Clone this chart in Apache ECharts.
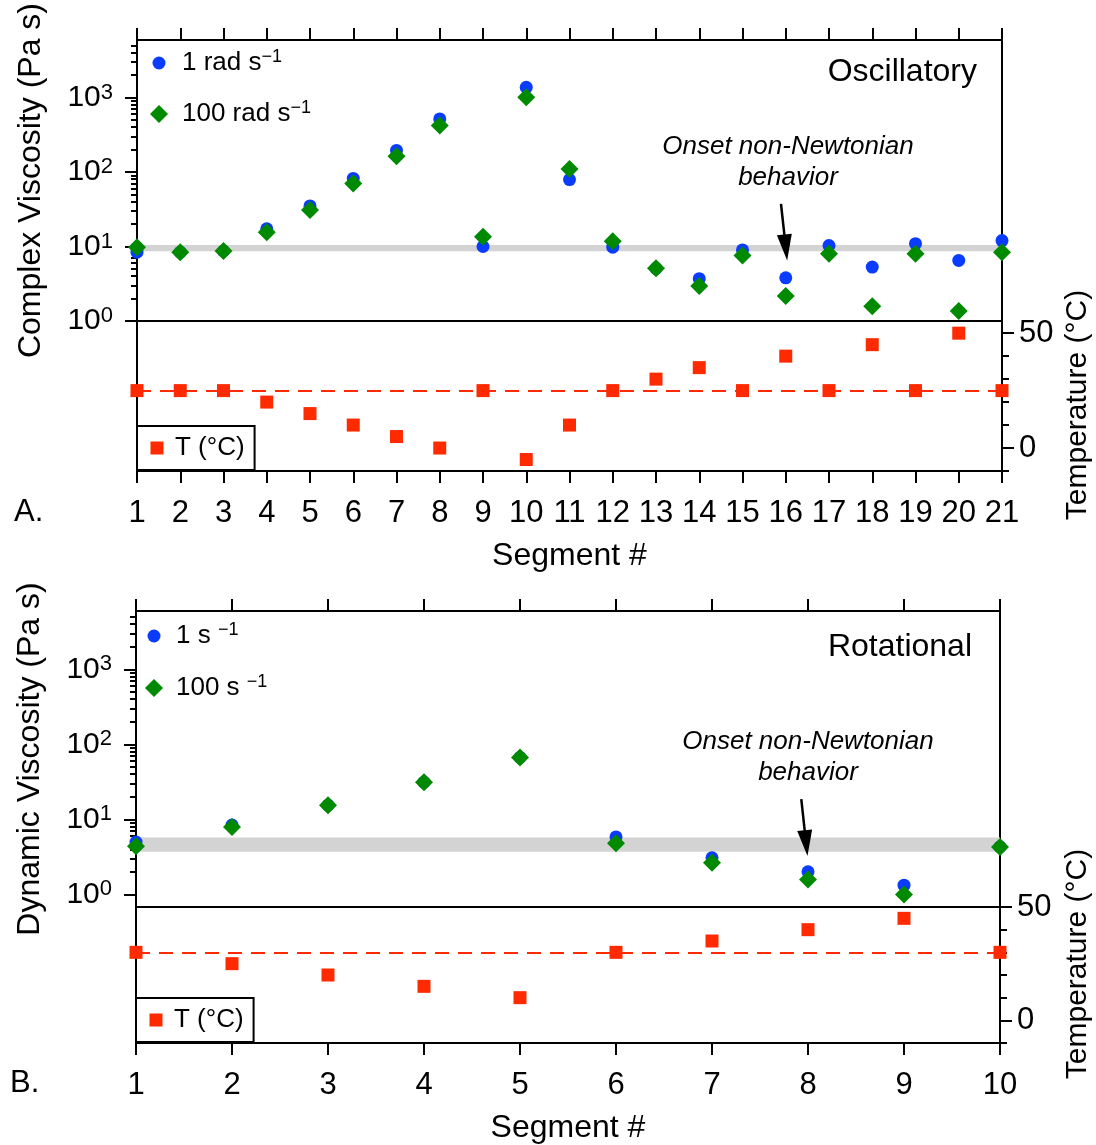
<!DOCTYPE html>
<html><head><meta charset="utf-8">
<script src="https://cdn.jsdelivr.net/npm/echarts@6/dist/echarts.min.js"></script>
<style>html,body{margin:0;padding:0;background:#fff}#c{width:1096px;height:1145px}</style>
</head><body><div id="c"></div>
<script>
// ---------- data ----------
const segmentsA = [1,2,3,4,5,6,7,8,9,10,11,12,13,14,15,16,17,18,19,20,21];
const oscVisc1   = [8.4, 8.4, 8.7, 17.3, 35, 82, 195, 515, 10, 1370, 79, 9.8, 5.1, 3.7, 9.0, 3.8, 10.3, 5.3, 10.9, 6.5, 12.0];
const oscVisc100 = [9.8, 8.4, 8.7, 15.5, 31, 70, 163, 420, 13.5, 1010, 110, 11.8, 5.1, 2.96, 7.6, 2.17, 8.0, 1.58, 8.0, 1.36, 8.4];
const oscTemp    = [25, 25, 25, 20, 15, 10, 5, 0, 25, -5, 10, 25, 30, 35, 25, 40, 25, 45, 25, 50, 25];
const oscRefTemp = 25;
const oscBand    = [8.66, 10.5];

const segmentsB = [1,2,3,4,5,6,7,8,9,10];
const rotVisc1   = [5.0, 8.4, 15.5, 31.4, 67, 5.85, 3.08, 2.0, 1.33, 4.3];
const rotVisc100 = [4.4, 7.9, 15.5, 31.4, 67, 4.8, 2.64, 1.58, 1.0, 4.3];
const rotTemp    = [30, 25, 20, 15, 10, 30, 35, 40, 45, 30];
const rotRefTemp = 30;
const rotBand    = [3.7, 5.75];

const logMajor = [1, 10, 100, 1000];
const logMinor = [2,3,4,5,6,7,8,9,20,30,40,50,60,70,80,90,200,300,400,500,600,700,800,900,2000,3000,4000,5000];
const tempMajor = [0, 50];
const tempMinor = [-10, 10, 20, 30, 40];

// arrow annotation anchors (data space): [segment, viscosity]
const arrowA = [[15.89, 37.4], [16.0, 9.7]];
const arrowB = [[7.93, 18.7], [7.98, 4.83]];

// ---------- style ----------
const FONT = 'Liberation Sans, Arial, Helvetica, sans-serif';
const BLUE = '#0a3cff', GREEN = '#008a00', RED = '#ff2a00', BAND = '#d3d3d3';
const pairs = (xs, ys) => xs.map((x, i) => [x, ys[i]]);

const logLabel = v => '{b|10}{s|' + Math.round(Math.log10(v)) + '}';
const logRich = {
  b: {fontSize: 30, lineHeight: 32, fontFamily: FONT, color: '#000'},
  s: {fontSize: 22, lineHeight: 22, verticalAlign: 'top', fontFamily: FONT, color: '#000'}
};
const legRich = {
  sup: {fontSize: 18, lineHeight: 18, verticalAlign: 'top', fontFamily: FONT, color: '#000'}
};

function xAxes(grid, max, top) {
  return {
    type: 'value', gridIndex: grid, min: 1, max: max, interval: 1,
    position: top ? 'top' : 'bottom',
    axisLine: {show: true, onZero: false, lineStyle: {color: '#000', width: 2}},
    axisTick: {show: true, length: 12, lineStyle: {color: '#000', width: 2}},
    axisLabel: top ? {show: false} : {show: true, fontSize: 31, fontFamily: FONT, color: '#000', margin: 27},
    splitLine: {show: false},
    name: top ? '' : 'Segment #', nameLocation: 'middle', nameGap: 69,
    nameTextStyle: {fontSize: 32, fontFamily: FONT, color: '#000'}
  };
}
function logAxes(grid, min, max, title) {
  return [{
    type: 'log', gridIndex: grid, min: min, max: max, position: 'left',
    axisLine: {show: true, onZero: false, lineStyle: {color: '#000', width: 2}},
    axisTick: {show: true, length: 12, customValues: logMajor, lineStyle: {color: '#000', width: 2}},
    axisLabel: {show: true, customValues: logMajor, formatter: logLabel, rich: logRich, margin: 24},
    splitLine: {show: false},
    name: title, nameLocation: 'middle', nameGap: 90,
    nameTextStyle: {fontSize: 32, fontFamily: FONT, color: '#000'}
  }, {
    type: 'log', gridIndex: grid, min: min, max: max, position: 'left',
    axisLine: {show: false, onZero: false},
    axisTick: {show: true, length: 6, customValues: logMinor, lineStyle: {color: '#000', width: 2}},
    axisLabel: {show: false},
    splitLine: {show: false}
  }];
}
function tempAxes(grid, max) {
  return [{
    type: 'value', gridIndex: grid, min: -10, max: max, position: 'right',
    axisLine: {show: true, onZero: false, lineStyle: {color: '#000', width: 2}},
    axisTick: {show: true, length: 12, customValues: tempMajor, lineStyle: {color: '#000', width: 2}},
    axisLabel: {show: true, customValues: tempMajor, fontSize: 31, fontFamily: FONT, color: '#000', margin: 17},
    splitLine: {show: false}
  }, {
    type: 'value', gridIndex: grid, min: -10, max: max, position: 'right',
    axisLine: {show: false, onZero: false},
    axisTick: {show: true, length: 7, customValues: tempMinor, lineStyle: {color: '#000', width: 2}},
    axisLabel: {show: false},
    splitLine: {show: false}
  }];
}
function viscSeries(name, xi, yi, xs, ys, sym, color, size, extra) {
  return Object.assign({
    name: name, type: 'scatter', xAxisIndex: xi, yAxisIndex: yi,
    data: pairs(xs, ys), symbol: sym, symbolSize: size,
    itemStyle: {color: color, opacity: 1}, clip: false, z: 3
  }, extra || {});
}
function arrowLine(a) {
  return {
    silent: true, symbol: ['none', 'triangle'], symbolSize: [15, 26],
    lineStyle: {color: '#000', width: 2.5, type: 'solid'}, label: {show: false},
    data: [[{coord: a[0]}, {coord: a[1]}]]
  };
}
// legend(name, centre-x of icon, centre-y, text, icon size, text start x, font size, boxed)
function legend(name, cx, cy, text, size, textX, fs, boxed) {
  const lh = 30;
  const h = Math.max(size, lh);
  const iconLeft = cx - size / 2;
  const textPad = textX - (iconLeft + size + 5);
  const l = {
    data: [name], orient: 'vertical', selectedMode: false,
    itemWidth: size, itemHeight: size, itemGap: 0, padding: 0,
    left: iconLeft, top: cy - h / 2,
    formatter: () => text,
    textStyle: {fontSize: fs, lineHeight: lh, fontFamily: FONT, color: '#000', rich: legRich, padding: [0, 0, 0, textPad]}
  };
  if (boxed) {
    l.left = boxed.left; l.top = boxed.top;
    l.padding = [boxed.padV, boxed.padR, boxed.padV, iconLeft - boxed.left];
    l.borderColor = '#000'; l.borderWidth = 2;
  }
  return l;
}

const option = {
  animation: false,
  backgroundColor: '#fff',
  grid: [
    {left: 137, right: 94, top: 39, height: 282, show: true, borderColor: '#000', borderWidth: 2, backgroundColor: 'transparent'},
    {left: 137, right: 94, top: 321, height: 150, show: true, borderColor: '#000', borderWidth: 2, backgroundColor: 'transparent'},
    {left: 136, right: 96, top: 611, height: 296, show: true, borderColor: '#000', borderWidth: 2, backgroundColor: 'transparent'},
    {left: 136, right: 96, top: 907, height: 136, show: true, borderColor: '#000', borderWidth: 2, backgroundColor: 'transparent'}
  ],
  xAxis: [xAxes(0, 21, true), xAxes(1, 21, false), xAxes(2, 10, true), xAxes(3, 10, false)],
  yAxis: [].concat(
    logAxes(0, 1, 5900, 'Complex Viscosity (Pa s)'),
    tempAxes(1, 55.3),
    logAxes(2, 0.68, 6000, 'Dynamic Viscosity (Pa s)'),
    tempAxes(3, 50)
  ),
  legend: [
    legend('A1', 159, 63, '1 rad s{sup|−1}', 13, 182, 26),
    legend('A100', 159, 114, '100 rad s{sup|−1}', 18, 182, 26),
    legend('AT', 157, 448, 'T (°C)', 13, 175, 26, {left: 137, top: 426, padV: 7, padR: 10}),
    legend('B1', 154, 636, '1 s {sup|−1}', 13, 176, 26),
    legend('B100', 154, 688, '100 s {sup|−1}', 18, 176, 26),
    legend('BT', 156, 1020, 'T (°C)', 13, 174, 26, {left: 136, top: 998, padV: 7, padR: 10})
  ],
  series: [
    viscSeries('A1', 0, 0, segmentsA, oscVisc1, 'circle', BLUE, 13, {
      markArea: {silent: true, itemStyle: {color: BAND}, data: [[{yAxis: oscBand[0]}, {yAxis: oscBand[1]}]]}
    }),
    viscSeries('A100', 0, 0, segmentsA, oscVisc100, 'diamond', GREEN, 18, {markLine: arrowLine(arrowA)}),
    viscSeries('AT', 1, 2, segmentsA, oscTemp, 'rect', RED, 13, {
      markLine: {silent: true, symbol: 'none', label: {show: false},
        lineStyle: {color: RED, width: 2, type: [14, 9]}, data: [{yAxis: oscRefTemp}]}
    }),
    viscSeries('B1', 2, 4, segmentsB, rotVisc1, 'circle', BLUE, 13, {
      markArea: {silent: true, itemStyle: {color: BAND}, data: [[{yAxis: rotBand[0]}, {yAxis: rotBand[1]}]]}
    }),
    viscSeries('B100', 2, 4, segmentsB, rotVisc100, 'diamond', GREEN, 18, {markLine: arrowLine(arrowB)}),
    viscSeries('BT', 3, 6, segmentsB, rotTemp, 'rect', RED, 13, {
      markLine: {silent: true, symbol: 'none', label: {show: false},
        lineStyle: {color: RED, width: 2, type: [14, 9]}, data: [{yAxis: rotRefTemp}]}
    })
  ],
  graphic: [
    {type: 'text', x: 977, y: 72, style: {text: 'Oscillatory', font: '32px ' + FONT, fill: '#000', align: 'right', verticalAlign: 'middle'}},
    {type: 'text', x: 972, y: 647, style: {text: 'Rotational', font: '32px ' + FONT, fill: '#000', align: 'right', verticalAlign: 'middle'}},
    {type: 'text', x: 788, y: 162, style: {text: 'Onset non-Newtonian\nbehavior', font: 'italic 26px ' + FONT, lineHeight: 31, fill: '#000', align: 'center', verticalAlign: 'middle'}},
    {type: 'text', x: 808, y: 757, style: {text: 'Onset non-Newtonian\nbehavior', font: 'italic 26px ' + FONT, lineHeight: 31, fill: '#000', align: 'center', verticalAlign: 'middle'}},
    {type: 'text', x: 1078, y: 405, rotation: Math.PI / 2, style: {text: 'Temperature (°C)', font: '30px ' + FONT, fill: '#000', align: 'center', verticalAlign: 'middle'}},
    {type: 'text', x: 1078, y: 964, rotation: Math.PI / 2, style: {text: 'Temperature (°C)', font: '30px ' + FONT, fill: '#000', align: 'center', verticalAlign: 'middle'}},
    {type: 'text', x: 14, y: 512, style: {text: 'A.', font: '31px ' + FONT, fill: '#000', align: 'left', verticalAlign: 'middle'}},
    {type: 'text', x: 10, y: 1083, style: {text: 'B.', font: '31px ' + FONT, fill: '#000', align: 'left', verticalAlign: 'middle'}}
  ]
};

const chart = echarts.init(document.getElementById('c'), null, {renderer: 'canvas'});
chart.setOption(option);
</script>
</body></html>
